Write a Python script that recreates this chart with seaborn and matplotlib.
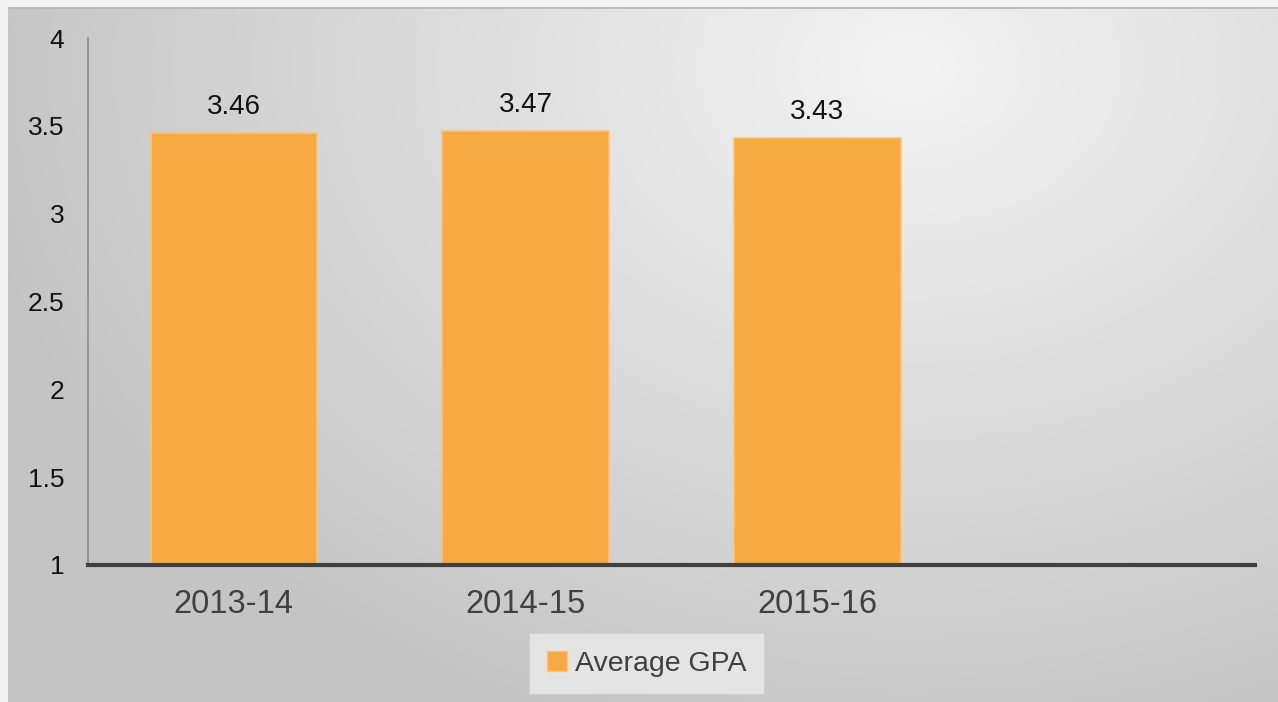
import numpy as np
import pandas as pd
import matplotlib
matplotlib.use("Agg")
import matplotlib.pyplot as plt
import seaborn as sns
from matplotlib.patches import Patch

categories = ["2013-14", "2014-15", "2015-16", ""]
gpa_values = [3.46, 3.47, 3.43, np.nan]
value_labels = ["3.46", "3.47", "3.43"]
yticks = [1, 1.5, 2, 2.5, 3, 3.5, 4]
ytick_labels = ["1", "1.5", "2", "2.5", "3", "3.5", "4"]
series_name = "Average GPA"

sns.set_style("white")
plt.rcParams['font.family'] = ['Liberation Sans', 'DejaVu Sans']

W, H = 1278, 702
fig = plt.figure(figsize=(W / 100, H / 100), dpi=100)
fig.patch.set_facecolor("#f4f4f4")

# background panel with radial gradient
bg = fig.add_axes([8 / W, 0, 1 - 8 / W, 1 - 7 / H])
bg.set_axis_off()
yy, xx = np.mgrid[0:695, 0:1270]
cx, cy = 900.0, 60.0
d = np.sqrt(((xx - cx) / 1.0) ** 2 + ((yy - cy) / 0.75) ** 2)
t = np.clip(d / 950.0, 0, 1)
light, dark = 0.955, 0.77
g = light - (light - dark) * t
img = np.dstack([g, g, g])
bg.imshow(img, aspect="auto", extent=[0, 1, 0, 1], origin="upper")
bg.set_xlim(0, 1)
bg.set_ylim(0, 1)
bg.axhline(1, color="#b8b8b8", lw=2)

ax = fig.add_axes([88 / W, 1 - 565 / H, (1255 - 88) / W, (565 - 38) / H])
ax.patch.set_alpha(0)

df = pd.DataFrame({"Year": categories, "GPA": gpa_values})
sns.barplot(data=df, x="Year", y="GPA", order=categories, color="#f8aa42",
            saturation=1, width=0.57, ax=ax, edgecolor="#fbc37a", linewidth=1.2)

ax.set_ylim(1, 4)
ax.set_xlim(-0.5, 3.5)
ax.set_yticks(yticks)
ax.set_yticklabels(ytick_labels, fontsize=19, color="#111111")
ax.tick_params(axis="y", length=0, pad=17)
ax.tick_params(axis="x", length=0, pad=17, labelsize=23.5, labelcolor="#404040")
ax.set_xlabel("")
ax.set_ylabel("")

for i, lab in enumerate(value_labels):
    ax.text(i, gpa_values[i] + 0.075, lab, ha="center", va="bottom",
            fontsize=20, color="#111111")

for s in ["top", "right"]:
    ax.spines[s].set_visible(False)
ax.spines["left"].set_color("#8a8a8a")
ax.spines["left"].set_linewidth(1.2)
ax.spines["bottom"].set_color("#404040")
ax.spines["bottom"].set_linewidth(3)

leg = fig.legend(handles=[Patch(facecolor="#f8aa42", edgecolor="#fbc37a", label=series_name)],
                 loc="center", bbox_to_anchor=(647 / W, 1 - 664 / H), frameon=True,
                 fontsize=20.5, handlelength=0.7, handleheight=0.7, handletextpad=0.3,
                 borderpad=0.45, borderaxespad=0, fancybox=False)
leg.get_frame().set_facecolor("#e4e4e4")
leg.get_frame().set_edgecolor("#e4e4e4")
leg.get_frame().set_linewidth(6)
leg.get_frame().set_alpha(1)
for txt in leg.get_texts():
    txt.set_color("#404040")

fig.savefig("out.png", dpi=100, facecolor=fig.get_facecolor())
